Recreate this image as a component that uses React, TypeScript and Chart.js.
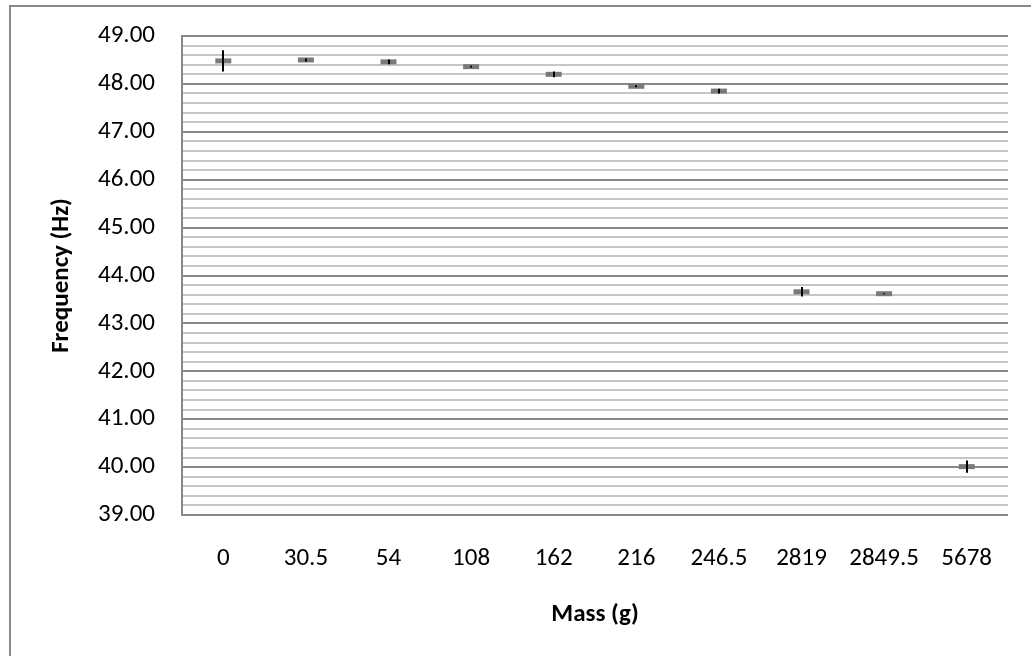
import React, { useEffect, useRef } from 'react';
import { Chart, registerables } from 'chart.js';

Chart.register(...registerables);

// ---- data ----
const massLabels: string[] = ['0', '30.5', '54', '108', '162', '216', '246.5', '2819', '2849.5', '5678'];
const frequencyHz: number[] = [48.48, 48.5, 48.46, 48.36, 48.2, 47.95, 47.85, 43.66, 43.62, 40.01];
const frequencyError: number[] = [0.22, 0.03, 0.05, 0.02, 0.06, 0.02, 0.05, 0.1, 0.01, 0.13];
const yMin = 39;
const yMax = 49;
const yTickCount = 51; // minor gridlines every 0.2
const xTitle = 'Mass (g)';
const yTitle = 'Frequency (Hz)';

const FONT = "Carlito, Lato, 'Open Sans', sans-serif";
const isMajor = (v: number) => Math.abs(v - Math.round(v)) < 1e-6;

export default function App() {
  const ref = useRef<HTMLCanvasElement>(null);

  useEffect(() => {
    const canvas = ref.current;
    if (!canvas) return;

    const frame = {
      id: 'frame',
      beforeDraw(chart: any) {
        const ctx = chart.ctx;
        ctx.save();
        ctx.fillStyle = '#ffffff';
        ctx.fillRect(0, 0, chart.width, chart.height);
        ctx.strokeStyle = '#888888';
        ctx.lineWidth = 2;
        ctx.strokeRect(10, 6, 1024, 700);
        ctx.restore();
      },
    };

    const errorBars = {
      id: 'errorBars',
      afterDatasetsDraw(chart: any) {
        const { ctx, scales } = chart;
        const xs = scales.x;
        const ys = scales.y;
        ctx.save();
        ctx.strokeStyle = '#000000';
        ctx.lineWidth = 2;
        frequencyHz.forEach((v, i) => {
          const e = frequencyError[i];
          const px = Math.round(xs.getPixelForValue(i));
          ctx.beginPath();
          ctx.moveTo(px, ys.getPixelForValue(v + e));
          ctx.lineTo(px, ys.getPixelForValue(v - e));
          ctx.stroke();
        });
        ctx.restore();
      },
    };

    const chart = new Chart(canvas, {
      type: 'line',
      data: {
        labels: massLabels,
        datasets: [
          {
            label: 'Frequency',
            data: frequencyHz,
            showLine: false,
            pointStyle: 'line',
            pointRadius: 8,
            pointHoverRadius: 8,
            pointBorderWidth: 5,
            pointHoverBorderWidth: 5,
            borderColor: '#7a7a7a',
            backgroundColor: '#7a7a7a',
          },
        ],
      },
      options: {
        animation: false,
        responsive: true,
        maintainAspectRatio: false,
        events: [],
        layout: { autoPadding: false, padding: { left: 0, top: 36, right: 23, bottom: 0 } },
        plugins: {
          legend: { display: false },
          tooltip: { enabled: false },
        },
        scales: {
          x: {
            type: 'category',
            offset: true,
            grid: { display: false },
            border: { display: false },
            ticks: {
              color: '#000000',
              font: { family: FONT, size: 25 },
              padding: 21,
              maxRotation: 0,
              autoSkip: false,
            },
            title: {
              display: true,
              text: xTitle,
              color: '#000000',
              font: { family: FONT, size: 25, weight: 'bold' },
              padding: { top: 0, bottom: 26 },
            },
            afterFit(scale: any) {
              scale.height = 141;
            },
          },
          y: {
            type: 'linear',
            min: yMin,
            max: yMax,
            grid: {
              drawTicks: true,
              tickLength: 27,
              tickColor: 'rgba(0,0,0,0)',
              color: (c: any) => (c.tick && isMajor(c.tick.value) ? '#888888' : '#c6c6c6'),
              lineWidth: 2,
            },
            border: { display: true, color: '#888888', width: 2 },
            ticks: {
              count: yTickCount,
              autoSkip: false,
              padding: 0,
              color: '#000000',
              font: { family: FONT, size: 25 },
              callback: (value: any) => (isMajor(Number(value)) ? Number(value).toFixed(2) : ''),
            },
            title: {
              display: true,
              text: yTitle,
              color: '#000000',
              font: { family: FONT, size: 25, weight: 'bold' },
              padding: { top: 47, bottom: 0 },
            },
            afterFit(scale: any) {
              scale.width = 182;
            },
          },
        },
      },
      plugins: [frame, errorBars],
    });

    return () => chart.destroy();
  }, []);

  return (
    <div style={{ position: 'absolute', left: 0, top: 0, width: 1031, height: 656 }}>
      <canvas ref={ref} />
    </div>
  );
}
